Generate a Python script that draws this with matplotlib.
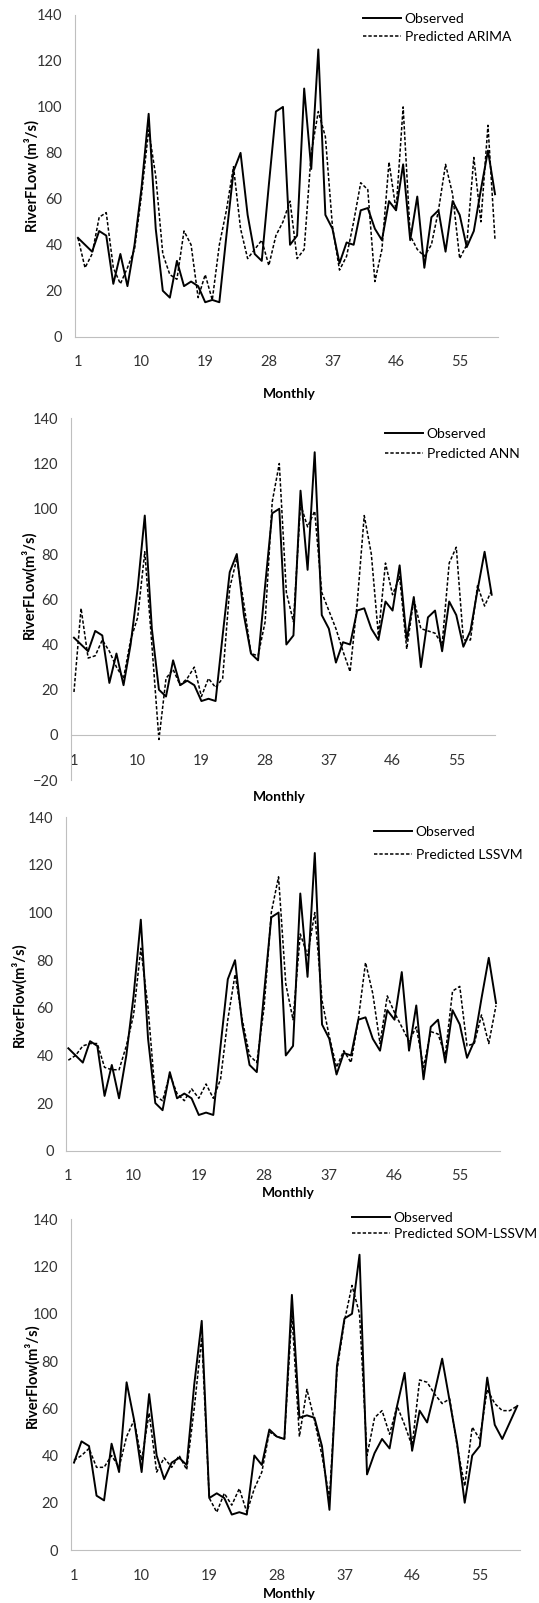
import numpy as np
import matplotlib.pyplot as plt

plt.rcParams['font.family'] = ['Lato', 'DejaVu Sans']

months = np.arange(1, 61)
xtick_labels = [1, 10, 19, 28, 37, 46, 55]

# observed flow used in ARIMA / ANN / LSSVM panels
observed = [43, 40, 37, 46, 44, 23, 36, 22, 40, 65,
            97, 47, 20, 17, 33, 22, 24, 22, 15, 16,
            15, 44, 72, 80, 53, 36, 33, 66, 98, 100,
            40, 44, 108, 73, 125, 53, 47, 32, 41, 40,
            55, 56, 47, 42, 59, 55, 75, 42, 61, 30,
            52, 55, 37, 59, 53, 39, 46, 64, 81, 62]

arima = [43, 30, 36, 52, 54, 30, 23, 30, 38, 62,
         90, 70, 36, 27, 25, 46, 40, 17, 27, 16,
         40, 55, 74, 47, 34, 38, 42, 31, 44, 50,
         59, 34, 38, 80, 98, 87, 48, 29, 35, 50,
         67, 64, 24, 38, 76, 55, 100, 44, 38, 35,
         40, 55, 75, 62, 34, 40, 78, 50, 92, 42]

ann = [19, 56, 34, 35, 42, 37, 30, 25, 42, 52,
       81, 40, -2, 25, 29, 22, 25, 30, 17, 25,
       21, 25, 65, 78, 58, 36, 35, 50, 103, 120,
       63, 50, 102, 92, 99, 63, 55, 47, 37, 28,
       58, 97, 80, 44, 76, 62, 70, 38, 60, 47,
       46, 45, 40, 76, 83, 42, 42, 66, 57, 64]

lssvm = [38, 40, 44, 45, 45, 35, 34, 34, 44, 57,
         85, 60, 23, 21, 32, 24, 21, 26, 22, 28,
         22, 30, 55, 74, 55, 40, 37, 60, 100, 115,
         70, 55, 91, 82, 100, 63, 48, 35, 42, 37,
         55, 79, 66, 45, 65, 58, 52, 46, 52, 35,
         50, 49, 40, 67, 69, 44, 45, 57, 45, 61]

# SOM-LSSVM panel uses its own observed ordering
som_observed = [37, 46, 44, 23, 21, 45, 33, 71, 55, 33,
                66, 40, 30, 37, 39, 36, 70, 97, 22, 24,
                22, 15, 16, 15, 40, 36, 51, 48, 47, 108,
                56, 57, 56, 44, 17, 78, 98, 100, 125, 32,
                41, 47, 43, 61, 75, 42, 59, 54, 67, 81,
                63, 45, 20, 40, 44, 73, 53, 47, 54, 61]

som_lssvm = [38, 40, 43, 35, 35, 40, 35, 48, 55, 38,
             58, 33, 39, 35, 40, 34, 60, 90, 22, 16,
             24, 19, 26, 16, 26, 33, 50, 48, 47, 100,
             48, 68, 55, 40, 22, 76, 97, 112, 100, 40,
             56, 59, 49, 61, 53, 44, 72, 71, 66, 62,
             64, 44, 27, 52, 47, 68, 62, 59, 59, 61]

W, H = 539, 1603
fig = plt.figure(figsize=(W / 100, H / 100), dpi=100)

# (pred, obs, name, ymin, axes px l, r, top, bottom, xlim, legend x/top, label spacing,
#  ylabel text, ylabel x/y, xlabel x/y)
panels = [
    (arima, observed, 'Predicted ARIMA', 0, (75, 498, 15, 336.7), (0.58, 60.42),
     (363, 13), 0.45, 'RiverFLow (m³/s)', (32, 176), (289, 394)),
    (ann, observed, 'Predicted ANN', -20, (71, 495, 418.3, 780.2), (0.58, 60.47),
     (385, 428), 0.6, 'RiverFLow(m³/s)', (29, 585), (279, 797)),
    (lssvm, observed, 'Predicted LSSVM', 0, (66, 500, 817.3, 1150.7), (0.68, 60.55),
     (374, 826), 0.8, 'RiverFlow(m³/s)', (19, 995), (288, 1193)),
    (som_lssvm, som_observed, 'Predicted SOM-LSSVM', 0, (71, 520, 1219.3, 1550), (0.6, 60.36),
     (352, 1212), 0.3, 'RiverFlow(m³/s)', (32, 1376), (289, 1594)),
]

grey = '#bfbfbf'
for pred, obs, name, ymin, (l, r, t, b), xl, (lx, ly), lsp, ylab, (yx, yy), (mx, my) in panels:
    ax = fig.add_axes([l / W, 1 - b / H, (r - l) / W, (b - t) / H])
    ax.plot(months, obs, color='black', lw=1.4, label='Observed')
    ax.plot(months, pred, color='black', lw=1.1, ls=(0, (2.2, 1.3)), label=name)
    ax.set_xlim(*xl)
    ax.set_ylim(ymin, 140)
    ax.set_yticks(range(ymin, 141, 20))
    ax.set_xticks(xtick_labels)
    for s in ['top', 'right']:
        ax.spines[s].set_visible(False)
    ax.spines['left'].set_color(grey)
    ax.spines['bottom'].set_color(grey)
    ax.spines['bottom'].set_position(('data', 0))
    ax.tick_params(axis='both', length=0, labelsize=10.5, labelcolor='#333333')
    ax.tick_params(axis='x', pad=13.5)
    ax.tick_params(axis='y', pad=9)
    ax.patch.set_alpha(0)
    ax.legend(loc='upper left', bbox_to_anchor=(lx / W, 1 - ly / H), bbox_transform=fig.transFigure,
              frameon=False, fontsize=10, handlelength=2.7, handletextpad=0.3,
              borderpad=0, borderaxespad=0, labelspacing=lsp)
    fig.text(yx / W, 1 - yy / H, ylab, rotation=90, ha='center', va='center',
             fontsize=10.5, fontweight='bold')
    fig.text(mx / W, 1 - my / H, 'Monthly', ha='center', va='center',
             fontsize=10, fontweight='bold')

fig.savefig('out.png', dpi=100)
